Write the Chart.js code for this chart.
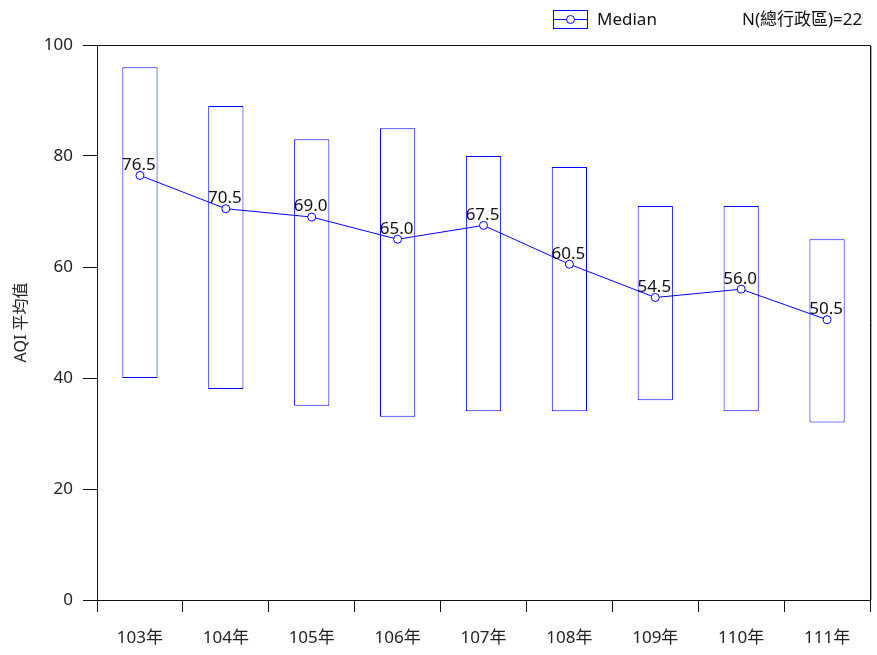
<!DOCTYPE html>
<html>
<head>
<meta charset="utf-8">
<script src="https://cdn.jsdelivr.net/npm/chart.js@4"></script>
<style>
  html, body { margin: 0; padding: 0; background: #fff; }
  #wrap { width: 877px; height: 655px; }
</style>
</head>
<body>
<div id="wrap"><canvas id="chartAqi"></canvas></div>
<script>
// ---- data ----
const years = ['103年', '104年', '105年', '106年', '107年', '108年', '109年', '110年', '111年'];
const aqiMin = [40, 38, 35, 33, 34, 34, 36, 34, 32];
const aqiMax = [96, 89, 83, 85, 80, 78, 71, 71, 65];
const aqiMedian = [76.5, 70.5, 69.0, 65.0, 67.5, 60.5, 54.5, 56.0, 50.5];
const yTicks = [0, 20, 40, 60, 80, 100];
const nText = 'N(總行政區)=22';

const BLUE = '#0000ff';
const FONT = "'Noto Sans', 'Noto Sans CJK TC', sans-serif";

// median labels above the points
const medianLabels = {
  id: 'medianLabels',
  afterDatasetsDraw(chart) {
    const ctx = chart.ctx;
    const meta = chart.getDatasetMeta(1);
    ctx.save();
    ctx.font = '17px ' + FONT;
    ctx.fillStyle = '#111';
    ctx.textAlign = 'center';
    ctx.textBaseline = 'bottom';
    meta.data.forEach((pt, i) => {
      ctx.fillText(aqiMedian[i].toFixed(1), pt.x - 1, pt.y - 2);
    });
    ctx.restore();
  }
};

// top/right frame + legend
const frameAndLegend = {
  id: 'frameAndLegend',
  afterDraw(chart) {
    const { ctx, chartArea: a } = chart;
    ctx.save();
    ctx.strokeStyle = '#111';
    ctx.lineWidth = 1;
    ctx.beginPath();
    ctx.moveTo(a.left, Math.round(a.top) + 0.5);
    ctx.lineTo(Math.round(a.right) + 0.5, Math.round(a.top) + 0.5);
    ctx.lineTo(Math.round(a.right) + 0.5, a.bottom);
    ctx.stroke();
    // faint shadow on the right edge like the reference
    ctx.strokeStyle = 'rgba(0,0,0,0.35)';
    ctx.beginPath();
    ctx.moveTo(Math.round(a.right) + 1.5, Math.round(a.top) + 1);
    ctx.lineTo(Math.round(a.right) + 1.5, a.bottom);
    ctx.stroke();

    // legend box
    ctx.strokeStyle = BLUE;
    ctx.strokeRect(553.5, 10.5, 34, 18);
    ctx.beginPath();
    ctx.moveTo(553.5, 19.5);
    ctx.lineTo(587.5, 19.5);
    ctx.stroke();
    ctx.beginPath();
    ctx.fillStyle = '#fff';
    ctx.arc(570.5, 19.5, 4, 0, Math.PI * 2);
    ctx.fill();
    ctx.stroke();

    ctx.fillStyle = '#111';
    ctx.font = '17px ' + FONT;
    ctx.textAlign = 'left';
    ctx.textBaseline = 'middle';
    ctx.fillText('Median', 597, 20);
    ctx.fillText(nText, 742, 20);
    ctx.restore();
  }
};

new Chart(document.getElementById('chartAqi'), {
  data: {
    labels: years,
    datasets: [
      {
        type: 'bar',
        label: 'Range',
        data: years.map((_, i) => [aqiMin[i], aqiMax[i]]),
        backgroundColor: '#ffffff',
        borderColor: BLUE,
        borderWidth: 1,
        borderSkipped: false,
        grouped: false,
        barPercentage: 0.41,
        categoryPercentage: 1,
        order: 2
      },
      {
        type: 'line',
        label: 'Median',
        data: aqiMedian,
        borderColor: BLUE,
        borderWidth: 1,
        pointStyle: 'circle',
        pointRadius: 4,
        pointBackgroundColor: '#fff',
        pointBorderColor: BLUE,
        pointBorderWidth: 1,
        tension: 0,
        order: 1
      }
    ]
  },
  options: {
    responsive: true,
    maintainAspectRatio: false,
    animation: false,
    layout: { padding: { top: 45, right: 7, bottom: 0, left: 0 } },
    plugins: {
      legend: { display: false },
      tooltip: { enabled: false }
    },
    scales: {
      x: {
        offset: true,
        grid: { display: true, offset: true, drawOnChartArea: false, drawTicks: true, tickLength: 12, color: '#111' },
        border: { display: true, color: '#111', width: 1 },
        ticks: { color: '#222', font: { family: FONT, size: 17 }, padding: 16, maxRotation: 0 },
        afterFit(scale) { scale.height = 55; }
      },
      y: {
        min: 0,
        max: 100,
        afterBuildTicks(scale) { scale.ticks = yTicks.map(v => ({ value: v })); },
        grid: { display: true, drawOnChartArea: false, drawTicks: true, tickLength: 14, color: '#111' },
        border: { display: true, color: '#111', width: 1 },
        ticks: { color: '#222', font: { family: FONT, size: 17 }, padding: 10 },
        title: {
          display: true,
          text: 'AQI 平均值',
          color: '#222',
          font: { family: FONT, size: 16 },
          padding: { top: 12, bottom: 0 }
        },
        afterFit(scale) { scale.width = 97; }
      }
    }
  },
  plugins: [medianLabels, frameAndLegend]
});
</script>
</body>
</html>
